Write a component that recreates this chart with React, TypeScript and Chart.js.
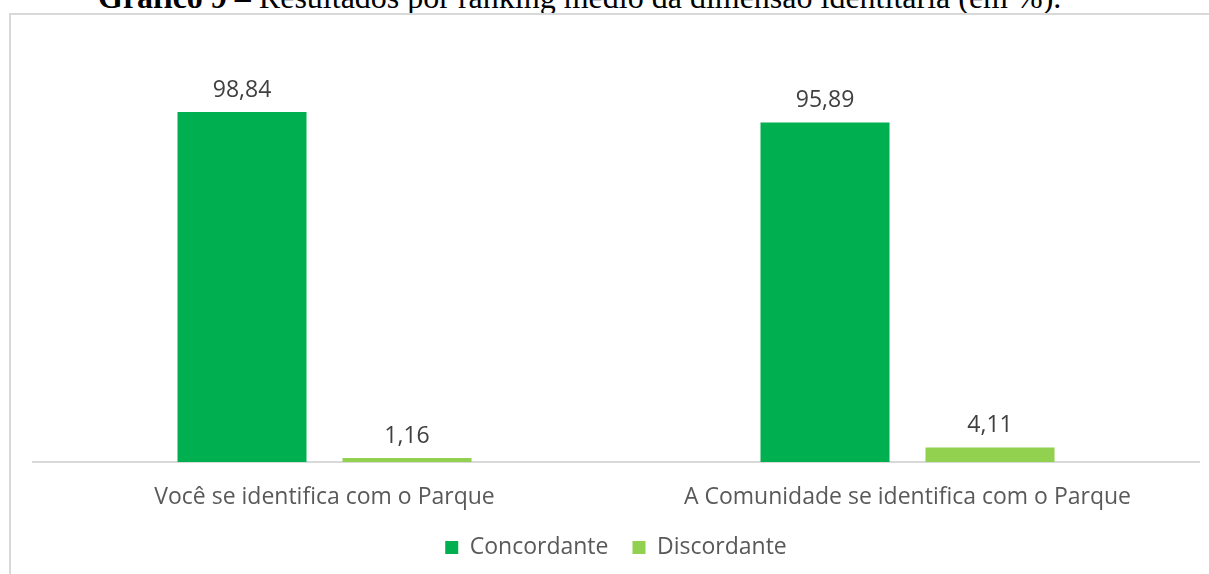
import React, { useEffect, useRef } from "react";
import { Chart, registerables } from "chart.js";

Chart.register(...registerables);

const categories = ["Você se identifica com o Parque", "A Comunidade se identifica com o Parque"];
const seriesNames = ["Concordante", "Discordante"];
const concordante = [98.84, 95.89];
const discordante = [1.16, 4.11];
const seriesColors = ["#00B050", "#92D050"];

const FONT = "'Open Sans', sans-serif";

const valueLabels = {
  id: "valueLabels",
  afterDatasetsDraw(chart: any) {
    const ctx = chart.ctx;
    ctx.save();
    ctx.font = `23px ${FONT}`;
    ctx.fillStyle = "#404040";
    ctx.textAlign = "center";
    ctx.textBaseline = "alphabetic";
    chart.data.datasets.forEach((ds: any, di: number) => {
      const meta = chart.getDatasetMeta(di);
      meta.data.forEach((bar: any, i: number) => {
        const v = ds.data[i] as number;
        ctx.fillText(v.toFixed(2).replace(".", ","), bar.x, bar.y - 15);
      });
    });
    ctx.restore();
  },
};

export default function App() {
  const ref = useRef<HTMLCanvasElement | null>(null);

  useEffect(() => {
    if (!ref.current) return;
    const chart = new Chart(ref.current, {
      type: "bar",
      data: {
        labels: categories,
        datasets: [
          { label: seriesNames[0], data: concordante, backgroundColor: seriesColors[0], borderWidth: 0 },
          { label: seriesNames[1], data: discordante, backgroundColor: seriesColors[1], borderWidth: 0 },
        ],
      },
      options: {
        responsive: false,
        animation: false,
        devicePixelRatio: 1,
        layout: { padding: { left: 33, right: 10, top: 37, bottom: 5 } },
        datasets: { bar: { categoryPercentage: 0.566, barPercentage: 0.782 } },
        scales: {
          x: {
            grid: { display: false, drawTicks: false },
            border: { display: true, color: "#d9d9d9", width: 2 },
            ticks: { color: "#595959", font: { family: FONT, size: 23 }, padding: 22, maxRotation: 0 },
            afterFit: (scale: any) => {
              scale.height = 50;
            },
          },
          y: { display: false, min: 0, max: 120 },
        },
        plugins: {
          legend: {
            position: "bottom",
            labels: {
              color: "#595959",
              font: { family: FONT, size: 23 },
              boxWidth: 13,
              boxHeight: 13,
              padding: 24,
            },
          },
          tooltip: { enabled: false },
          title: { display: false },
        },
      },
      plugins: [valueLabels],
    });
    return () => chart.destroy();
  }, []);

  return (
    <div style={{ position: "fixed", left: 0, top: 0, width: 1209, height: 574, overflow: "hidden", background: "#fff" }}>
      <div
        style={{
          position: "absolute",
          left: 98,
          top: -19.5,
          whiteSpace: "nowrap",
          fontFamily: "'Liberation Serif', 'Times New Roman', serif",
          fontSize: 32,
          lineHeight: "32px",
          color: "#000",
        }}
      >
        <b>Gráfico 9 –</b> Resultados por ranking médio da dimensão identitária (em %).
      </div>
      <div
        style={{
          position: "absolute",
          left: 9,
          top: 13,
          width: 1400,
          height: 800,
          borderTop: "2px solid #d9d9d9",
          borderLeft: "2px solid #d9d9d9",
        }}
      />
      <canvas ref={ref} width={1209} height={574} style={{ position: "absolute", left: 0, top: 0 }} />
    </div>
  );
}
